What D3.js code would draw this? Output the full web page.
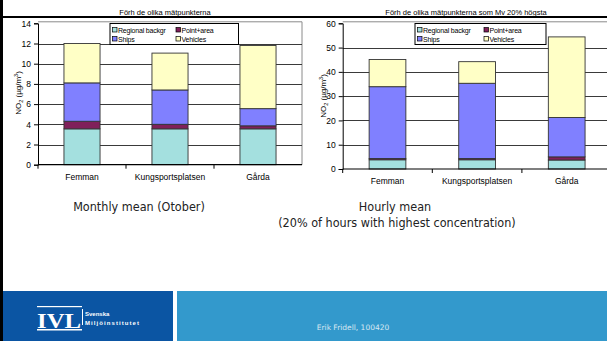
<!DOCTYPE html>
<html>
<head>
<meta charset="utf-8">
<script src="https://cdn.jsdelivr.net/npm/d3@7"></script>
<style>
  html, body { margin: 0; padding: 0; background: #fff; }
  svg { display: block; }
</style>
</head>
<body>
<svg id="slide" width="607" height="341"></svg>
<script>
// Measurement sites and the source split of NO2 at each
const categories = ["Femman", "Kungsportsplatsen", "Gårda"];
const sources = ["Regional backgr", "Point+area", "Ships", "Vehicles"];
const sourceColors = ["#a4e0df", "#80205a", "#8080ff", "#ffffc6"];

// Monthly mean (October), µg/m³
const monthlyRegional = [3.55, 3.55, 3.55];
const monthlyPoint    = [0.75, 0.45, 0.3];
const monthlyShips    = [3.8, 3.4, 1.7];
const monthlyVehicles = [3.9, 3.65, 6.25];
const monthlyTicks = [0, 2, 4, 6, 8, 10, 12, 14];

// Mean of the 20% highest hours, µg/m³
const hourlyRegional = [3.8, 3.8, 3.7];
const hourlyPoint    = [0.5, 0.5, 1.3];
const hourlyShips    = [29.6, 31.0, 16.2];
const hourlyVehicles = [11.2, 8.9, 33.2];
const hourlyTicks = [0, 10, 20, 30, 40, 50, 60];

const svg = d3.select("#slide");

function rows(reg, pt, sh, veh) {
  return categories.map((c, i) => ({
    site: c,
    "Regional backgr": reg[i],
    "Point+area": pt[i],
    "Ships": sh[i],
    "Vehicles": veh[i]
  }));
}

function drawChart(cfg) {
  const g = svg.append("g");
  const x = d3.scaleBand().domain(categories)
    .range([cfg.x0, cfg.x1]).paddingInner(0.59).paddingOuter(0.295);
  const y = d3.scaleLinear().domain([0, cfg.max]).range([cfg.y0, cfg.y1]);
  const color = d3.scaleOrdinal().domain(sources).range(sourceColors);

  // plot frame (top and right)
  g.append("path")
    .attr("d", `M${cfg.x0},${cfg.y1 - 1.5}H${cfg.x1}V${cfg.y0}`)
    .attr("fill", "none").attr("stroke", "#8a8a8a").attr("stroke-width", 1);

  // horizontal gridlines
  g.append("g").selectAll("line").data(cfg.ticks.filter(t => t > 0 && t < cfg.max))
    .join("line")
    .attr("x1", cfg.x0).attr("x2", cfg.x1)
    .attr("y1", d => Math.round(y(d)) + 0.5).attr("y2", d => Math.round(y(d)) + 0.5)
    .attr("stroke", "#3a3a3a").attr("stroke-width", 1);

  // stacked bars
  const stacked = d3.stack().keys(sources)(cfg.data);
  g.append("g").selectAll("g").data(stacked).join("g")
    .attr("fill", d => color(d.key))
    .selectAll("rect").data(d => d).join("rect")
    .attr("x", d => x(d.data.site))
    .attr("y", d => y(d[1]))
    .attr("width", x.bandwidth())
    .attr("height", d => y(d[0]) - y(d[1]))
    .attr("stroke", "#333").attr("stroke-width", 0.9);

  // y axis
  const yAxis = g.append("g").attr("transform", `translate(${cfg.x0},0)`)
    .call(d3.axisLeft(y).tickValues(cfg.ticks).tickSize(4).tickPadding(3));
  yAxis.select(".domain").attr("stroke", "#000");
  yAxis.selectAll(".tick line").attr("stroke", "#000");
  yAxis.selectAll("text").attr("font-family", "Liberation Sans, Arial, sans-serif")
    .attr("font-size", 8.5).attr("fill", "#000");

  // x axis with category separators pointing down
  const xAxis = g.append("g").attr("transform", `translate(0,${cfg.y0})`);
  xAxis.append("line").attr("x1", cfg.x0).attr("x2", cfg.x1)
    .attr("stroke", "#000").attr("stroke-width", 1.2);
  const bounds = categories.slice(1).map(c => x(c) - x.step() * x.paddingInner() / 2);
  xAxis.selectAll("line.sep").data([cfg.x0, ...bounds]).join("line").attr("class", "sep")
    .attr("x1", d => d).attr("x2", d => d).attr("y1", 0).attr("y2", 4)
    .attr("stroke", "#000");
  xAxis.selectAll("text").data(categories).join("text")
    .attr("x", d => x(d) + x.bandwidth() / 2).attr("y", 15)
    .attr("text-anchor", "middle")
    .attr("font-family", "Liberation Sans, Arial, sans-serif").attr("font-size", 8.5)
    .text(d => d);

  // y axis title: NO2 (µg/m3)
  const yt = g.append("text")
    .attr("transform", `translate(${cfg.labelX},${cfg.labelY}) rotate(-90)`)
    .attr("text-anchor", "middle")
    .attr("font-family", "Liberation Sans, Arial, sans-serif").attr("font-size", 8);
  yt.append("tspan").text("NO");
  yt.append("tspan").attr("font-size", 5.5).attr("dy", 2).text("2");
  yt.append("tspan").attr("dy", -2).text(" (µg/m");
  yt.append("tspan").attr("font-size", 5.5).attr("dy", -3).text("3");
  yt.append("tspan").attr("dy", 3).text(")");

  // chart title
  g.append("text").attr("x", cfg.titleX).attr("y", 14.5)
    .attr("text-anchor", "middle")
    .attr("font-family", "Liberation Sans, Arial, sans-serif").attr("font-size", 7.5)
    .text(cfg.title);

  // legend
  const lg = g.append("g").attr("transform", `translate(${cfg.legX},${cfg.legY})`);
  lg.append("rect").attr("width", cfg.legW).attr("height", 21)
    .attr("fill", "#fff").attr("stroke", "#000").attr("stroke-width", 1);
  sources.forEach((s, i) => {
    const col = i % 2, row = Math.floor(i / 2);
    const ix = 2.5 + col * cfg.legCol, iy = 4 + row * 9;
    lg.append("rect").attr("x", ix).attr("y", iy).attr("width", 4.5).attr("height", 4.5)
      .attr("fill", sourceColors[i]).attr("stroke", "#000").attr("stroke-width", 0.7);
    lg.append("text").attr("x", ix + 5.5).attr("y", iy + 5)
      .attr("font-family", "Liberation Sans, Arial, sans-serif").attr("font-size", 7)
      .attr("letter-spacing", -0.2)
      .text(s);
  });
}

// left strip and title rule
svg.append("rect").attr("x", 0).attr("y", 0).attr("width", 3).attr("height", 341).attr("fill", "#000");
svg.append("rect").attr("x", 3).attr("y", 16).attr("width", 604).attr("height", 2).attr("fill", "#000");

drawChart({
  data: rows(monthlyRegional, monthlyPoint, monthlyShips, monthlyVehicles),
  max: 14, ticks: monthlyTicks,
  x0: 38, x1: 302, y0: 164.7, y1: 23.3,
  labelX: 21, labelY: 93,
  title: "Förh de olika mätpunkterna", titleX: 165,
  legX: 110, legY: 23.5, legW: 128.5, legCol: 63.5
});

drawChart({
  data: rows(hourlyRegional, hourlyPoint, hourlyShips, hourlyVehicles),
  max: 60, ticks: hourlyTicks,
  x0: 342.7, x1: 611.5, y0: 169, y1: 23.3,
  labelX: 326, labelY: 96,
  title: "Förh de olika mätpunkterna som Mv 20% högsta", titleX: 466,
  legX: 415, legY: 23.5, legW: 131, legCol: 66.5
});

// captions under the charts
const cap = svg.append("g").attr("font-family", "DejaVu Sans Condensed, DejaVu Sans, sans-serif")
  .attr("font-stretch", "condensed")
  .attr("font-size", 12.5).attr("fill", "#222").attr("text-anchor", "middle");
cap.append("text").attr("x", 139).attr("y", 210.5).text("Monthly mean (Otober)");
cap.append("text").attr("x", 395).attr("y", 210.5).text("Hourly mean");
cap.append("text").attr("x", 397).attr("y", 227).text("(20% of hours with highest concentration)");

// footer band
svg.append("rect").attr("x", 3).attr("y", 291).attr("width", 170).attr("height", 50).attr("fill", "#0b55a3");
svg.append("rect").attr("x", 177).attr("y", 291).attr("width", 430).attr("height", 50).attr("fill", "#3399cc");
svg.append("text").attr("x", 353).attr("y", 330).attr("text-anchor", "middle")
  .attr("font-family", "DejaVu Sans, Verdana, sans-serif").attr("font-size", 7.5)
  .attr("fill", "#d8e8f2").text("Erik Fridell, 100420");

// IVL logo
const logo = svg.append("g").attr("fill", "#fff");
logo.append("rect").attr("x", 37).attr("y", 306).attr("width", 45).attr("height", 1.2);
logo.append("rect").attr("x", 37).attr("y", 329).attr("width", 45).attr("height", 1.5);
logo.append("text").attr("x", 37).attr("y", 327.5)
  .attr("font-family", "Liberation Serif, Times New Roman, serif").attr("font-weight", "bold")
  .attr("font-size", 22).attr("textLength", 44).attr("lengthAdjust", "spacingAndGlyphs").text("IVL");
logo.append("rect").attr("x", 82).attr("y", 309).attr("width", 1).attr("height", 16);
logo.append("text").attr("x", 85).attr("y", 316)
  .attr("font-family", "Liberation Sans, Arial, sans-serif").attr("font-weight", "bold")
  .attr("font-size", 6).text("Svenska");
logo.append("text").attr("x", 85).attr("y", 325)
  .attr("font-family", "Liberation Sans, Arial, sans-serif").attr("font-weight", "bold")
  .attr("font-size", 6).attr("textLength", 54).text("Miljöinstitutet");
</script>
</body>
</html>
